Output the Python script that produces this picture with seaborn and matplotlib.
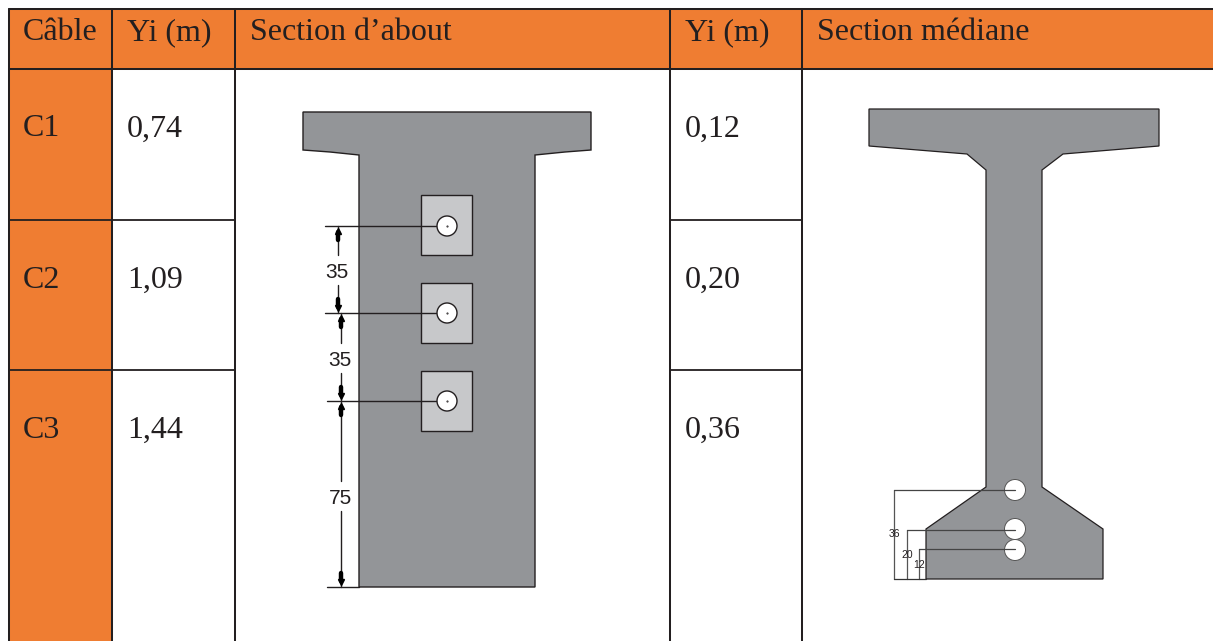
import matplotlib
matplotlib.use("Agg")
import matplotlib.pyplot as plt
import seaborn as sns
from matplotlib.patches import Circle, Polygon, Rectangle

# --- table content ---
cables = ["C1", "C2", "C3"]
yi_about = ["0,74", "1,09", "1,44"]
yi_mediane = ["0,12", "0,20", "0,36"]
headers = ["Câble", "Yi (m)", "Section d’about", "Yi (m)", "Section médiane"]
dims_about = ["35", "35", "75"]
dims_mediane = ["36", "20", "12"]

# --- table grid (pixels) ---
col_x = [9, 112, 235, 670, 802, 1213]
head_y = [9, 69]
row_y = [220, 370]
row_text_y = [129, 280, 430]
ORANGE = "#EF7D32"
GREY = "#939598"
LIGHT = "#C7C8CA"
INK = "#231F20"

# --- section outlines (pixels) ---
about_x = [303, 591, 591, 565, 535, 535, 359, 359, 330, 303]
about_y = [112, 112, 150, 152, 155, 587, 587, 155, 152, 150]
med_x = [869, 1159, 1159, 1063, 1042, 1042, 1103, 1103, 926, 926, 986, 986, 967, 869]
med_y = [109, 109, 146, 154, 170, 487, 529, 579, 579, 529, 487, 170, 154, 146]
about_holes_y = [226, 313, 401]
about_rect_top = [195, 283, 371]
about_lead_x = [325, 325, 327]
about_dim_x = [338, 341, 341]
about_dim_y = [(226, 313, 270), (313, 401, 358), (401, 587, 496)]
med_holes_y = [490, 529, 550]
med_lead_y = [490, 530, 549]
med_lead_x = [894, 907, 919]
med_text = [(894, 534), (907, 555), (919, 565)]

sns.set_theme(style="white")
plt.rcParams["font.family"] = ["Liberation Serif", "DejaVu Serif"]
fig, ax = plt.subplots(figsize=(12.13, 6.41), dpi=100)
ax.set_position([0, 0, 1, 1])
ax.set_xlim(0, 1213)
ax.set_ylim(641, 0)
ax.axis("off")


def seg(xs, ys, color=INK, lw=1.0, z=5):
    sns.lineplot(x=xs, y=ys, color=color, linewidth=lw, sort=False, estimator=None,
                 errorbar=None, ax=ax, zorder=z, legend=False)


# fills
ax.add_patch(Rectangle((col_x[0], head_y[0]), col_x[-1] - col_x[0], head_y[1] - head_y[0],
                       color=ORANGE, lw=0, zorder=1))
ax.add_patch(Rectangle((col_x[0], head_y[1]), col_x[1] - col_x[0], 641 - head_y[1],
                       color=ORANGE, lw=0, zorder=1))

# grid
GRID_LW = 1.45
seg([col_x[0], 1213], [head_y[0]] * 2, lw=GRID_LW)
seg([col_x[0], 1213], [head_y[1]] * 2, lw=GRID_LW)
for x in col_x[:5]:
    seg([x, x], [head_y[0], 641], lw=GRID_LW)
for y in row_y:
    seg([col_x[0], col_x[2]], [y, y], lw=1.3)
    seg([col_x[3], col_x[4]], [y, y], lw=1.3)

# text
FS = 23
head_tx = [23, 127, 250, 685, 817]
for x, t in zip(head_tx, headers):
    ax.text(x, 33, t, fontsize=FS, color=INK, va="center", ha="left", zorder=6)
for y, c, a, m in zip(row_text_y, cables, yi_about, yi_mediane):
    ax.text(23, y, c, fontsize=FS, color=INK, va="center", ha="left", zorder=6)
    ax.text(127, y, a, fontsize=FS, color=INK, va="center", ha="left", zorder=6)
    ax.text(685, y, m, fontsize=FS, color=INK, va="center", ha="left", zorder=6)

# section d'about
ax.add_patch(Polygon(list(zip(about_x, about_y)), closed=True, fc=GREY, ec=INK, lw=1.0, zorder=2))
for yh, top, xl in zip(about_holes_y, about_rect_top, about_lead_x):
    ax.add_patch(Rectangle((421, top), 51, 60, fc=LIGHT, ec=INK, lw=1.0, zorder=3))
    ax.add_patch(Circle((447, yh), 10, fc="white", ec=INK, lw=1.0, zorder=4))
    ax.plot([447], [yh], ".", ms=1.0, color=INK, zorder=5)
    seg([xl, 436], [yh, yh], lw=1.0)
seg([327, 359], [587, 587], lw=1.0)

for xd, (y0, y1, ym), lab in zip(about_dim_x, about_dim_y, dims_about):
    seg([xd, xd], [y0, ym - 15], lw=1.0)
    seg([xd, xd], [ym + 15, y1], lw=1.0)
    # blocky arrow heads, as drawn in the source
    seg([xd, xd], [y0 + 6, y0 + 14], color="black", lw=3.2, z=6)
    seg([xd, xd], [y1 - 14, y1 - 6], color="black", lw=3.2, z=6)
    ax.plot([xd], [y0 + 5], marker="^", ms=4, color="black", zorder=6)
    ax.plot([xd], [y1 - 5], marker="v", ms=4, color="black", zorder=6)
    ax.text(xd - 1, ym + 2, lab, fontsize=15, family="Liberation Sans", color=INK,
            va="center", ha="center", zorder=7)

# section mediane
ax.add_patch(Polygon(list(zip(med_x, med_y)), closed=True, fc=GREY, ec=INK, lw=0.9, zorder=2))
for yh in med_holes_y:
    ax.add_patch(Circle((1015, yh), 10.5, fc="white", ec="#555555", lw=0.7, zorder=4))
for xl, yh in zip(med_lead_x, med_lead_y):
    seg([xl, xl], [yh, 579], color="#555555", lw=0.9)
    seg([xl, 1015], [yh, yh], color="#444444", lw=0.9)
seg([894, 926], [579, 579], color="#333333", lw=0.9)
for (xt, yt), lab in zip(med_text, dims_mediane):
    ax.text(xt, yt, lab, fontsize=7.5, family="Liberation Sans", color=INK,
            va="center", ha="center", zorder=7)

fig.savefig("out.png", dpi=100, facecolor="white")
